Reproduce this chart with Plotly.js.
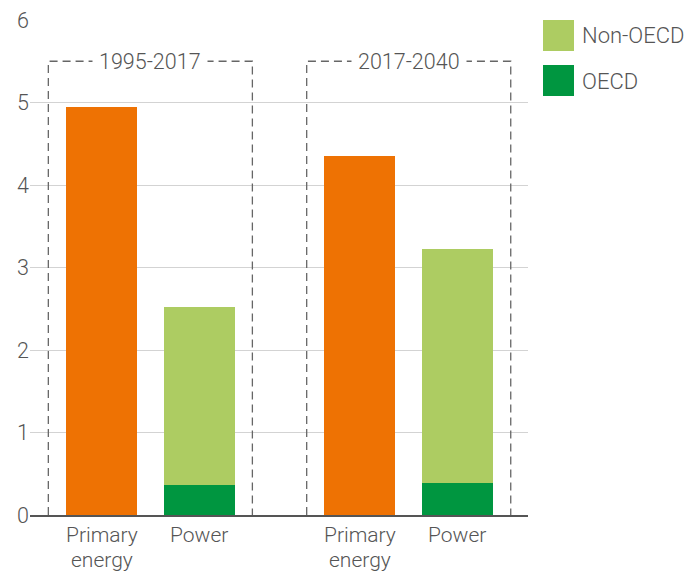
<!DOCTYPE html>
<html>
<head>
<meta charset="utf-8">
<script src="https://cdn.plot.ly/plotly-3.0.1.min.js"></script>
<style>html,body{margin:0;padding:0;background:#fff}#chart{width:692px;height:572px}</style>
</head>
<body>
<div id="chart"></div>
<script>
// ---- Data ----
const groups = ["1995-2017", "2017-2040"];
const categories = [["Primary", "energy"], ["Power"]];
const primaryEnergy = [4.95, 4.35];
const powerOECD = [0.36, 0.39];
const powerNonOECD = [2.16, 2.84];
const seriesNames = ["Non-OECD", "OECD"];
const yTicks = [0, 1, 2, 3, 4, 5, 6];

// ---- Styles ----
const cOrange = "#EE7203";
const cLight = "#ADCC62";
const cDark = "#009640";
const textColor = "#555555";
const font = "Roboto, 'Liberation Sans', sans-serif";
const fs = 21.5;
const xfs = 21;

// layout helpers
const groupStep = 2.65;
const barWidth = 0.728;
const xPrim = groups.map((g, i) => i * groupStep);
const xPow = groups.map((g, i) => i * groupStep + 1);

const L = 30, R = 528, T = 20, B = 515;
const px = v => (v - L) / (R - L);
const py = v => (B - v) / (B - T);

const traces = [
  {type: "bar", x: xPrim, y: primaryEnergy, width: barWidth, marker: {color: cOrange}, showlegend: false},
  {type: "bar", x: xPow, y: powerOECD, width: barWidth, marker: {color: cDark}, name: seriesNames[1], showlegend: false},
  {type: "bar", x: xPow, y: powerNonOECD, width: barWidth, marker: {color: cLight}, name: seriesNames[0], showlegend: false}
];

const tickvals = [], ticktext = [];
const shapes = [];
const annotations = [];
groups.forEach((g, i) => {
  [xPrim[i], xPow[i]].forEach((xv, k) => {
    tickvals.push(xv);
    ticktext.push("");
    categories[k].forEach((line, j) => {
      annotations.push({xref: "x", yref: "paper", x: xv, y: py(535 + 24.8 * j), text: line, showarrow: false,
        xanchor: "center", yanchor: "middle", font: {family: font, size: xfs, color: textColor, weight: 300}});
    });
  });
});

const boxTop = 5.5;
groups.forEach((g, i) => {
  const x0 = xPrim[i] - 0.546, x1 = xPow[i] + 0.547;
  shapes.push({type: "path", xref: "x", yref: "y",
    path: `M ${x0} 0 L ${x0} ${boxTop} L ${x1} ${boxTop} L ${x1} 0`,
    line: {color: "#666666", width: 1.3, dash: "8px,5px"}, fillcolor: "rgba(0,0,0,0)", layer: "above"});
  annotations.push({xref: "x", yref: "y", x: (x0 + x1) / 2, y: boxTop, text: g, showarrow: false,
    xanchor: "center", yanchor: "middle", bgcolor: "#ffffff", borderpad: 6,
    font: {family: font, size: fs, color: textColor, weight: 300}});
});

// legend (manual)
const legendItems = [[seriesNames[0], cLight, 20], [seriesNames[1], cDark, 65]];
legendItems.forEach(([name, col, top]) => {
  shapes.push({type: "rect", xref: "paper", yref: "paper", x0: px(543), x1: px(574), y0: py(top + 31), y1: py(top),
    fillcolor: col, line: {width: 0}});
  annotations.push({xref: "paper", yref: "paper", x: px(580), y: py(top + 16), text: name, showarrow: false,
    xanchor: "left", yanchor: "middle", font: {family: font, size: 22, color: textColor, weight: 300}});
});

const layout = {
  width: 692, height: 572,
  margin: {l: L, r: 692 - R, t: T, b: 572 - B},
  paper_bgcolor: "#fff", plot_bgcolor: "#fff",
  barmode: "stack",
  showlegend: false,
  font: {family: font, size: fs, color: textColor, weight: 300},
  xaxis: {range: [-0.734, 4.374], tickvals: tickvals, ticktext: ticktext, showgrid: false, zeroline: false,
    showline: true, linecolor: "#555555", linewidth: 2, ticks: "", showticklabels: false, fixedrange: true},
  yaxis: {range: [0, 6], tickvals: yTicks, showgrid: true, gridcolor: "#d3d3d3", gridwidth: 1, zeroline: false,
    showline: false, ticks: "", tickfont: {family: font, size: fs, color: textColor, weight: 300}, fixedrange: true},
  shapes: shapes,
  annotations: annotations
};

Plotly.newPlot("chart", traces, layout, {displayModeBar: false, staticPlot: true});
</script>
</body>
</html>
